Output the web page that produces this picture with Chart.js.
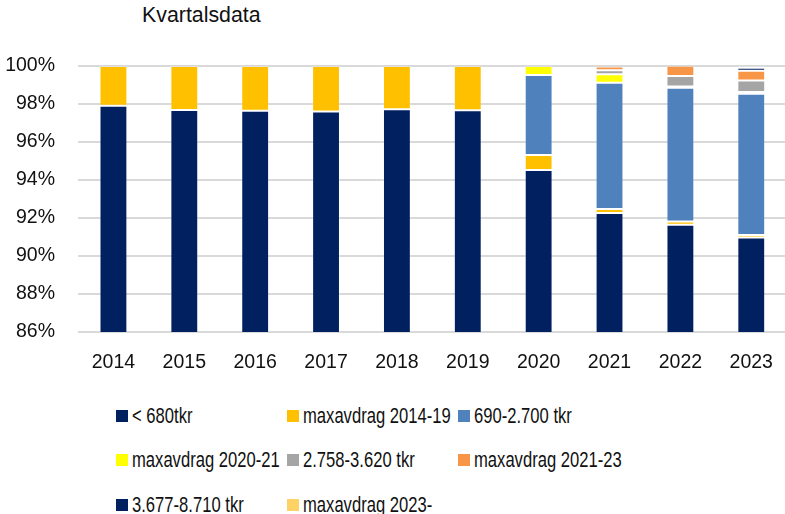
<!DOCTYPE html>
<html>
<head>
<meta charset="utf-8">
<script src="https://cdn.jsdelivr.net/npm/chart.js@4.4.1/dist/chart.umd.min.js"></script>
<style>
    html, body { margin: 0; padding: 0; background: #fff; overflow: hidden; }
    #wrap { position: relative; width: 785px; height: 514px; overflow: hidden; font-family: 'Liberation Sans', Arial, sans-serif; color: #111; }
    #chartBox { position: absolute; left: 0; top: 0; width: 792px; height: 382px; }
    #title { position: absolute; left: 142px; top: 4px; font-size: 22px; line-height: 1; transform: scaleX(0.97); transform-origin: left center; }
    #legend { position: absolute; left: 116px; top: 405px; display: grid; grid-template-columns: 171px 171px 171px; row-gap: 23.5px; font-size: 22px; line-height: 1; }
    .item { display: flex; align-items: center; height: 21px; white-space: nowrap; }
    .item .box { flex: 0 0 12px; width: 12px; height: 12px; margin-right: 4px; }
    .item .txt { display: inline-block; transform: scaleX(0.755); transform-origin: left center; }
</style>
</head>
<body>
<div id="wrap">
    <div id="title">Kvartalsdata</div>
    <div id="chartBox"><canvas id="chart"></canvas></div>
    <div id="legend"></div>
</div>
<script>
// Andelar per år (%), nedifrån och upp i stapeln
const years = ['2014', '2015', '2016', '2017', '2018', '2019', '2020', '2021', '2022', '2023'];
const under680 = [97.91, 97.68, 97.65, 97.60, 97.72, 97.67, 94.53, 92.26, 91.65, 90.98];
const max1419 = [2.09, 2.32, 2.35, 2.40, 2.28, 2.33, 0.79, 0.21, 0.16, 0.12];
const r690to2700 = [null, null, null, null, null, null, 4.21, 6.65, 7.04, 7.44];
const max2021 = [null, null, null, null, null, null, 0.47, 0.44, 0.07, 0.09];
const r2758to3620 = [null, null, null, null, null, null, null, 0.21, 0.56, 0.61];
const max2123 = [null, null, null, null, null, null, null, 0.21, 0.53, 0.51];
const r3677to8710 = [null, null, null, null, null, null, null, null, null, 0.16];
const max2023 = [null, null, null, null, null, null, null, null, null, 0.09];

const yTicks = [86, 88, 90, 92, 94, 96, 98, 100];

const series = [
    { label: '< 680tkr', data: under680, color: '#002060' },
    { label: 'maxavdrag 2014-19', data: max1419, color: '#FFC000' },
    { label: '690-2.700 tkr', data: r690to2700, color: '#4F81BD' },
    { label: 'maxavdrag 2020-21', data: max2021, color: '#FFFF00' },
    { label: '2.758-3.620 tkr', data: r2758to3620, color: '#A5A5A5' },
    { label: 'maxavdrag 2021-23', data: max2123, color: '#F79646' },
    { label: '3.677-8.710 tkr', data: r3677to8710, color: '#002060' },
    { label: 'maxavdrag 2023-', data: max2023, color: '#FFD265' }
];

const tickFont = { family: "'Liberation Sans', Arial, sans-serif", size: 19.5 };

const chart = new Chart(document.getElementById('chart'), {
    type: 'bar',
    data: {
        labels: years,
        datasets: series.map(s => ({
            label: s.label,
            data: s.data,
            backgroundColor: s.color,
            borderColor: 'rgba(255,255,255,0.2)',
            borderWidth: 1,
            borderSkipped: false,
            categoryPercentage: 1,
            barPercentage: 0.393
        }))
    },
    options: {
        responsive: true,
        maintainAspectRatio: false,
        animation: false,
        layout: { padding: { top: 66, left: 0, right: 1, bottom: 0 } },
        plugins: {
            legend: { display: false },
            tooltip: { enabled: false },
            title: { display: false }
        },
        scales: {
            x: {
                stacked: true,
                afterFit: axis => { axis.height = 50; },
                grid: { display: false, drawTicks: false },
                border: { display: false },
                ticks: { color: '#111', font: tickFont, padding: 19, maxRotation: 0 }
            },
            y: {
                stacked: true,
                min: 86,
                max: 100,
                afterFit: axis => { axis.width = 78; },
                afterBuildTicks: axis => { axis.ticks = yTicks.map(v => ({ value: v })); },
                grid: { color: '#D9D9D9', lineWidth: 2, drawTicks: false },
                border: { display: false },
                ticks: {
                    color: '#111',
                    font: tickFont,
                    padding: 23,
                    callback: v => v + '%'
                }
            }
        }
    }
});

// Förklaring som HTML, byggd från serierna
const legendEl = document.getElementById('legend');
series.forEach(s => {
    const item = document.createElement('div');
    item.className = 'item';
    const box = document.createElement('span');
    box.className = 'box';
    box.style.background = s.color;
    const txt = document.createElement('span');
    txt.className = 'txt';
    txt.textContent = s.label;
    item.appendChild(box);
    item.appendChild(txt);
    legendEl.appendChild(item);
});
</script>
</body>
</html>
